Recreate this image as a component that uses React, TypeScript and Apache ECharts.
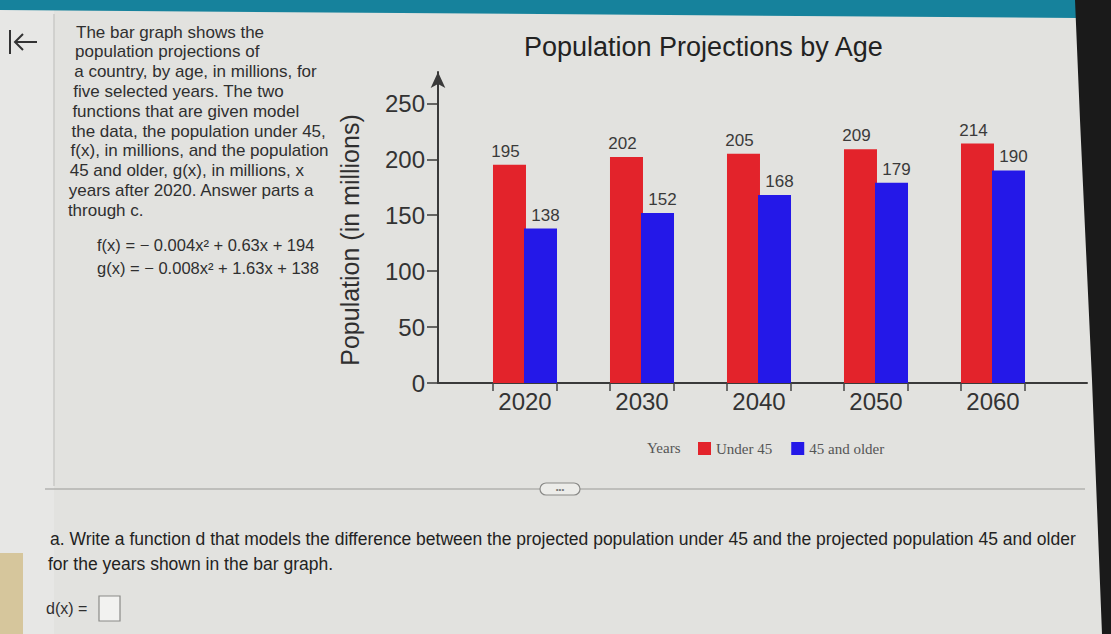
import React, { useEffect, useRef } from "react";
import * as echarts from "echarts";

const years = ["2020", "2030", "2040", "2050", "2060"];
const under45 = [195, 202, 205, 209, 214];
const older45 = [138, 152, 168, 179, 190];
const yTicks = [0, 50, 100, 150, 200, 250];
const seriesNames = ["Under 45", "45 and older"];
const titleText = "Population Projections by Age";
const yAxisTitle = "Population (in millions)";
const legendLead = "Years";
const introLines = [
  "The bar graph shows the",
  "population projections of",
  "a country, by age, in millions, for",
  "five selected years. The two",
  "functions that are given model",
  "the data, the population under 45,",
  "f(x), in millions, and the population",
  "45 and older, g(x), in millions, x",
  "years after 2020. Answer parts a",
  "through c.",
];
const formulaLines = [
  "f(x) = \u2212 0.004x\u00b2 + 0.63x + 194",
  "g(x) = \u2212 0.008x\u00b2 + 1.63x + 138",
];
const questionLines = [
  "a. Write a function d that models the difference between the projected population under 45 and the projected population 45 and older",
  "for the years shown in the bar graph.",
];
const answerLabel = "d(x) =";

const SANS = "'Liberation Sans', Arial, Helvetica, sans-serif";
const SERIF = "'Liberation Serif', 'Times New Roman', serif";
const INK = "#2f2f2f";

export default function App() {
  const ref = useRef<HTMLDivElement>(null);

  useEffect(() => {
    if (!ref.current) return;
    const chart = echarts.init(ref.current, undefined, { renderer: "svg" });

    const graphic: any[] = [
      { type: "rect", shape: { x: 0, y: 0, width: 54, height: 634 }, style: { fill: "#e7e7e5" }, z: -10 },
      { type: "line", shape: { x1: 54, y1: 14, x2: 54, y2: 486 }, style: { stroke: "#cacac7", lineWidth: 1.5 }, z: -9 },
      { type: "polygon", shape: { points: [[0, 0], [1080, 0], [1078, 18], [0, 10]] }, style: { fill: "#16829c" }, z: -5 },
      { type: "polygon", shape: { points: [[1075, 0], [1111, 0], [1111, 634], [1102, 634], [1092, 380], [1080, 120]] }, style: { fill: "#1a1a1a" }, z: -5 },
      { type: "rect", shape: { x: 0, y: 553, width: 23, height: 81 }, style: { fill: "#d6c69c" }, z: -5 },
      { type: "line", shape: { x1: 10, y1: 30, x2: 10, y2: 54 }, style: { stroke: "#333", lineWidth: 2 } },
      { type: "line", shape: { x1: 15, y1: 42, x2: 37, y2: 42 }, style: { stroke: "#333", lineWidth: 2 } },
      { type: "polyline", shape: { points: [[23, 34], [15, 42], [23, 50]] }, style: { stroke: "#333", lineWidth: 2, fill: null } },
      {
        type: "text", x: 350, y: 240, rotation: Math.PI / 2,
        style: { text: yAxisTitle, fontSize: 25, fontFamily: SANS, fill: INK, align: "center", verticalAlign: "middle" },
      },
      {
        type: "text", x: 647, y: 448,
        style: { text: legendLead, fontSize: 15, fontFamily: SERIF, fill: "#555", align: "left", verticalAlign: "middle" },
      },
      { type: "line", shape: { x1: 45, y1: 489, x2: 540, y2: 489 }, style: { stroke: "#9a9a98", lineWidth: 1.2 } },
      { type: "line", shape: { x1: 580, y1: 489, x2: 1085, y2: 489 }, style: { stroke: "#9a9a98", lineWidth: 1.2 } },
      { type: "rect", shape: { x: 540, y: 483, width: 40, height: 12, r: 6 }, style: { fill: "#ecece9", stroke: "#8a8a88", lineWidth: 1.2 } },
      {
        type: "text", x: 560, y: 489,
        style: { text: "\u2022\u2022\u2022", fontSize: 8, fontFamily: SANS, fill: "#777", align: "center", verticalAlign: "middle" },
      },
      {
        type: "text", x: 46, y: 608,
        style: { text: answerLabel, fontSize: 16, fontFamily: SANS, fill: INK, align: "left", verticalAlign: "middle" },
      },
      { type: "rect", shape: { x: 99, y: 596, width: 21, height: 25 }, style: { fill: "#f2f2f0", stroke: "#8a8a88", lineWidth: 1.2 } },
    ];

    introLines.forEach((t, i) => {
      graphic.push({
        type: "text", x: 76 - i * 0.9, y: 32 + i * 19.8,
        style: { text: t, fontSize: 17, fontFamily: SANS, fill: INK, align: "left", verticalAlign: "middle" },
      });
    });
    formulaLines.forEach((t, i) => {
      graphic.push({
        type: "text", x: 97, y: 245 + i * 23,
        style: { text: t, fontSize: 16.5, fontFamily: SANS, fill: INK, align: "left", verticalAlign: "middle" },
      });
    });
    questionLines.forEach((t, i) => {
      graphic.push({
        type: "text", x: i === 0 ? 50 : 48, y: 539 + i * 25,
        style: { text: t, fontSize: 17.5, fontFamily: SANS, fill: "#222", align: "left", verticalAlign: "middle" },
      });
    });

    const halfGroup = 32;

    chart.setOption({
      animation: false,
      backgroundColor: "#e2e2df",
      title: {
        text: titleText,
        left: 524,
        top: 33,
        padding: 0,
        textStyle: { fontSize: 27, fontWeight: "normal", fontFamily: SANS, color: "#222" },
      },
      legend: {
        data: seriesNames,
        left: 698,
        top: 441,
        padding: 0,
        itemWidth: 13,
        itemHeight: 13,
        itemGap: 19,
        icon: "rect",
        textStyle: { fontFamily: SERIF, fontSize: 15, color: "#555" },
      },
      grid: [
        { left: 438, right: 24, top: 72, bottom: 251 },
        { left: 466.5, right: 59.5, top: 72, bottom: 251 },
      ],
      xAxis: [
        {
          type: "value", gridIndex: 0, min: 0, max: 1,
          axisLine: { show: true, onZero: false, lineStyle: { color: "#3a3a3a", width: 2 } },
          axisTick: { show: false }, axisLabel: { show: false }, splitLine: { show: false },
        },
        {
          type: "category", gridIndex: 1, data: years,
          axisLine: { show: false }, axisTick: { show: false },
          axisLabel: { fontSize: 24, color: "#333", margin: 6, fontFamily: SANS },
        },
      ],
      yAxis: [
        {
          type: "value", gridIndex: 0, min: 0, max: 278,
          axisLine: { show: true, symbol: ["none", "arrow"], symbolSize: [11, 16], lineStyle: { color: "#3a3a3a", width: 2 } },
          axisTick: { show: true, length: 11, customValues: yTicks, lineStyle: { color: "#3a3a3a", width: 1.5 } },
          axisLabel: { customValues: yTicks, fontSize: 24, color: "#333", margin: 13, fontFamily: SANS },
          splitLine: { show: false },
        },
        { type: "value", gridIndex: 1, min: 0, max: 278, show: false },
      ],
      series: [
        {
          name: seriesNames[0], type: "bar", xAxisIndex: 1, yAxisIndex: 1,
          data: under45, barWidth: 33, barGap: "-6%",
          itemStyle: { color: "#e3232b" },
          label: { show: true, position: "top", fontSize: 17, color: "#3a3a3a", fontFamily: SANS, offset: [-4, 0] },
        },
        {
          name: seriesNames[1], type: "bar", xAxisIndex: 1, yAxisIndex: 1,
          data: older45, barWidth: 33,
          itemStyle: { color: "#2418e8" },
          label: { show: true, position: "top", fontSize: 17, color: "#3a3a3a", fontFamily: SANS, offset: [5, 0] },
        },
        {
          type: "custom", xAxisIndex: 1, yAxisIndex: 1,
          data: years.map((_, i) => [i, 0]),
          encode: { x: 0, y: 1 },
          silent: true,
          renderItem: (params: any, api: any) => {
            const p = api.coord([api.value(0), 0]);
            const st = { stroke: "#444", lineWidth: 1.5 };
            return {
              type: "group",
              children: [
                { type: "line", shape: { x1: p[0] - halfGroup, y1: p[1], x2: p[0] - halfGroup, y2: p[1] + 8 }, style: st },
                { type: "line", shape: { x1: p[0] + halfGroup, y1: p[1], x2: p[0] + halfGroup, y2: p[1] + 8 }, style: st },
              ],
            };
          },
        },
      ],
      graphic,
    });

    return () => chart.dispose();
  }, []);

  return <div ref={ref} style={{ position: "fixed", left: 0, top: 0, width: 1111, height: 634 }} />;
}
